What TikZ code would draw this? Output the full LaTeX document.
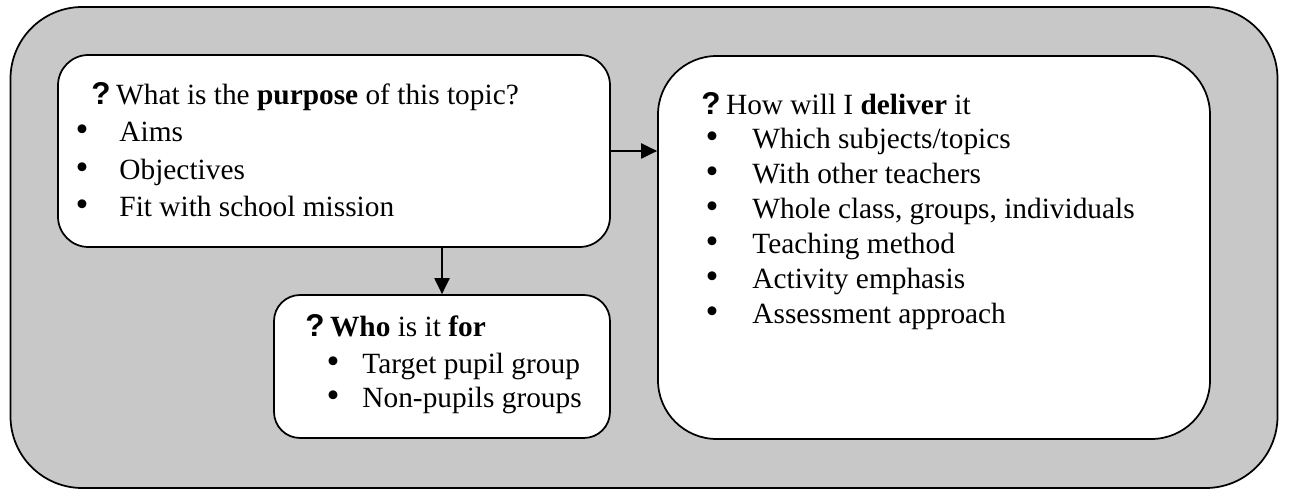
\documentclass[tikz,border=0pt]{standalone}
\usepackage{fontspec}
\setmainfont{Liberation Serif}
\newfontfamily\qfont{Liberation Sans}
\usetikzlibrary{arrows.meta}

\definecolor{panelgray}{RGB}{200,200,200}
\def\u{0.46pt}
\newcommand{\qm}{{\qfont\bfseries\fontsize{14.5}{16}\selectfont ?}\hspace{2.5pt}}

\begin{document}
\begin{tikzpicture}[
		x=0.46pt, y=-0.46pt,
		panel/.style={draw, line width=0.8pt, fill=panelgray, rounded corners=33pt, inner sep=0pt},
		box/.style={draw, line width=0.8pt, fill=white, inner sep=0pt},
		head/.style={anchor=base west, inner sep=0pt, font=\fontsize{13.5}{16}\selectfont},
		item/.style={anchor=base west, inner sep=0pt, font=\fontsize{13.5}{16}\selectfont},
		dot/.style={anchor=base, inner sep=0pt, font=\fontsize{17}{18}\selectfont},
		flow/.style={-{Triangle[length=7.4pt, width=7pt]}, line width=0.8pt}
		]
		\useasboundingbox (0,0) rectangle (1290,489);
		
		% ---------------------------------------------------------
		% Grey panel behind everything
		% ---------------------------------------------------------
		\node[panel, minimum width=1267*\u, minimum height=481*\u] (panel) at (644,247.5) {};
		
		% ---------------------------------------------------------
		% The three boxes
		% ---------------------------------------------------------
		\node[box, rounded corners=14pt, minimum width=552*\u, minimum height=192*\u] (purpose) at (334,151) {};
		\node[box, rounded corners=12pt, minimum width=336*\u, minimum height=143*\u] (who) at (442,366.5) {};
		\node[box, rounded corners=27pt, minimum width=552*\u, minimum height=383*\u] (deliver) at (934,247.5) {};
		
		% ---------------------------------------------------------
		% Texts
		% ---------------------------------------------------------
		\node[head] (purpose-q) at (91,105) {\qm What is the \textbf{purpose} of this topic?};
		\foreach \y/\t [count=\i] in {142/Aims, 180/Objectives, 217/Fit with school mission} {
			\node[dot] (purpose-b\i) at (82,\y) {\textbullet};
			\node[item] (purpose-i\i) at (119,\y) {\t};
		}
		
		\node[head] (who-q) at (305,337) {\qm \textbf{Who} is it \textbf{for}};
		\foreach \y/\t [count=\i] in {373/Target pupil group, 408/Non-pupils groups} {
			\node[dot] (who-b\i) at (333,\y) {\textbullet};
			\node[item] (who-i\i) at (362,\y) {\t};
		}
		
		\node[head] (deliver-q) at (701,115) {\qm How will I \textbf{deliver} it};
		\foreach \y/\t [count=\i] in {149/{Which subjects/topics}, 184/With other teachers,
			219/{Whole class, groups, individuals}, 254/Teaching method,
			289/Activity emphasis, 324/Assessment approach} {
			\node[dot] (deliver-b\i) at (712,\y) {\textbullet};
			\node[item] (deliver-i\i) at (752,\y) {\t};
		}
		
		% ---------------------------------------------------------
		% Arrows
		% ---------------------------------------------------------
		\draw[flow] (purpose.east) -- (deliver.west |- purpose.east);
		\draw[flow] (purpose.south -| who.north) -- (who.north);
		
	\end{tikzpicture}
\end{document}
